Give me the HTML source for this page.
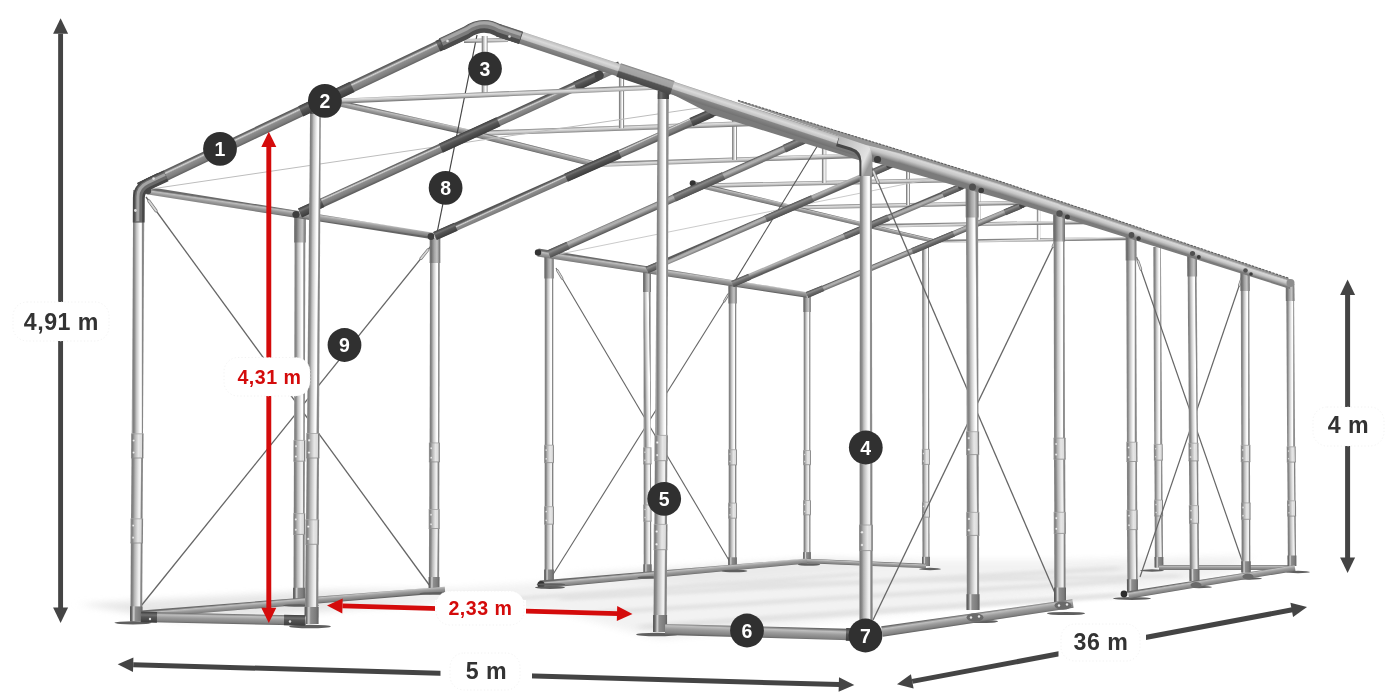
<!DOCTYPE html>
<html lang="pl">
<head>
<meta charset="utf-8">
<title>Konstrukcja namiotu 5 m x 36 m</title>
<style>
html,body{margin:0;padding:0;background:#fff;}
body{width:1400px;height:700px;overflow:hidden;}
svg{display:block;}
.lb{font-family:"Liberation Sans",sans-serif;font-weight:700;}
.ls{letter-spacing:0.5px;}
</style>
</head>
<body>
<svg width="1400" height="700" viewBox="0 0 1400 700">
<defs>

<filter id="blur2" x="-10%" y="-50%" width="120%" height="200%"><feGaussianBlur stdDeviation="5 1.6"/></filter>
<filter id="blur" x="-10%" y="-30%" width="120%" height="160%"><feGaussianBlur stdDeviation="7 3"/></filter>
<linearGradient id="post"><stop offset="0" stop-color="#9c9c9c"/><stop offset="0.07" stop-color="#7e7e7e"/><stop offset="0.2" stop-color="#929292"/><stop offset="0.33" stop-color="#bebebe"/><stop offset="0.5" stop-color="#dedede"/><stop offset="0.66" stop-color="#fafafa"/><stop offset="0.79" stop-color="#ffffff"/><stop offset="0.84" stop-color="#b4b4b4"/><stop offset="0.89" stop-color="#868686"/><stop offset="1" stop-color="#909090"/></linearGradient>
<linearGradient id="ptop"><stop offset="0" stop-color="#7a7a7a"/><stop offset="0.15" stop-color="#6c6c6c"/><stop offset="0.45" stop-color="#a6a6a6"/><stop offset="0.7" stop-color="#c4c4c4"/><stop offset="0.88" stop-color="#8a8a8a"/><stop offset="1" stop-color="#6e6e6e"/></linearGradient>
<linearGradient id="postlow"><stop offset="0" stop-color="#969696"/><stop offset="0.07" stop-color="#7a7a7a"/><stop offset="0.2" stop-color="#8c8c8c"/><stop offset="0.33" stop-color="#b4b4b4"/><stop offset="0.5" stop-color="#d2d2d2"/><stop offset="0.66" stop-color="#ececec"/><stop offset="0.79" stop-color="#f2f2f2"/><stop offset="0.84" stop-color="#acacac"/><stop offset="0.89" stop-color="#828282"/><stop offset="1" stop-color="#8c8c8c"/></linearGradient>
<linearGradient id="post2"><stop offset="0" stop-color="#9a9a9a"/><stop offset="0.12" stop-color="#7c7c7c"/><stop offset="0.3" stop-color="#b0b0b0"/><stop offset="0.6" stop-color="#e6e6e6"/><stop offset="0.85" stop-color="#dcdcdc"/><stop offset="0.92" stop-color="#7e7e7e"/><stop offset="1" stop-color="#8a8a8a"/></linearGradient>
<linearGradient id="dark"><stop offset="0" stop-color="#545454"/><stop offset="0.14" stop-color="#6c6c6c"/><stop offset="0.3" stop-color="#d2d2d2"/><stop offset="0.44" stop-color="#8e8e8e"/><stop offset="0.8" stop-color="#7c7c7c"/><stop offset="1" stop-color="#606060"/></linearGradient>
<linearGradient id="conn"><stop offset="0" stop-color="#3e3e3e"/><stop offset="0.3" stop-color="#707070"/><stop offset="0.5" stop-color="#555"/><stop offset="1" stop-color="#3c3c3c"/></linearGradient>
<linearGradient id="conn3"><stop offset="0" stop-color="#505050"/><stop offset="0.3" stop-color="#8a8a8a"/><stop offset="0.55" stop-color="#6e6e6e"/><stop offset="1" stop-color="#4e4e4e"/></linearGradient>
<linearGradient id="mid"><stop offset="0" stop-color="#6a6a6a"/><stop offset="0.22" stop-color="#bebebe"/><stop offset="0.5" stop-color="#9c9c9c"/><stop offset="0.85" stop-color="#828282"/><stop offset="1" stop-color="#646464"/></linearGradient>
<linearGradient id="mid2"><stop offset="0" stop-color="#5a5a5a"/><stop offset="0.2" stop-color="#a8a8a8"/><stop offset="0.42" stop-color="#b2b2b2"/><stop offset="0.7" stop-color="#868686"/><stop offset="1" stop-color="#5c5c5c"/></linearGradient>
<linearGradient id="light"><stop offset="0" stop-color="#858585"/><stop offset="0.3" stop-color="#dedede"/><stop offset="0.6" stop-color="#c6c6c6"/><stop offset="1" stop-color="#7c7c7c"/></linearGradient>
<linearGradient id="band"><stop offset="0" stop-color="#a2a2a2"/><stop offset="0.25" stop-color="#d8d8d8"/><stop offset="0.55" stop-color="#c6c6c6"/><stop offset="0.8" stop-color="#a0a0a0"/><stop offset="1" stop-color="#7c7c7c"/></linearGradient>
<linearGradient id="conn2"><stop offset="0" stop-color="#7e7e7e"/><stop offset="0.12" stop-color="#a8a8a8"/><stop offset="0.5" stop-color="#a0a0a0"/><stop offset="0.6" stop-color="#555"/><stop offset="1" stop-color="#484848"/></linearGradient>
<linearGradient id="bandlight"><stop offset="0" stop-color="#9a9a9a"/><stop offset="0.07" stop-color="#c0c0c0"/><stop offset="0.3" stop-color="#dadada"/><stop offset="0.55" stop-color="#c2c2c2"/><stop offset="0.63" stop-color="#878787"/><stop offset="1" stop-color="#727272"/></linearGradient>
<linearGradient id="elbow" x1="0" y1="0" x2="1" y2="0.6"><stop offset="0" stop-color="#b4b4b4"/><stop offset="0.5" stop-color="#cfcfcf"/><stop offset="0.85" stop-color="#e2e2e2"/><stop offset="1" stop-color="#9a9a9a"/></linearGradient>

<linearGradient id="g1" href="#post" gradientUnits="userSpaceOnUse" x1="803.6" y1="373.7" x2="810.4" y2="373.7"/>
<linearGradient id="g2" href="#postlow" gradientUnits="userSpaceOnUse" x1="803.6" y1="482.6" x2="810.4" y2="482.6"/>
<linearGradient id="g3" href="#postlow" gradientUnits="userSpaceOnUse" x1="803.5" y1="537.9" x2="810.5" y2="537.9"/>
<linearGradient id="g4" href="#ptop" gradientUnits="userSpaceOnUse" x1="803.3" y1="304.5" x2="810.7" y2="304.5"/>
<linearGradient id="g5" href="#post2" gradientUnits="userSpaceOnUse" x1="803.1" y1="457.6" x2="810.9" y2="457.6"/>
<linearGradient id="g6" href="#post2" gradientUnits="userSpaceOnUse" x1="803.1" y1="507.7" x2="810.9" y2="507.7"/>
<linearGradient id="g7" href="#dark" gradientUnits="userSpaceOnUse" x1="803.2" y1="556.5" x2="810.8" y2="556.5"/>
<linearGradient id="g8" href="#post" gradientUnits="userSpaceOnUse" x1="728.7" y1="367.9" x2="736.3" y2="367.9"/>
<linearGradient id="g9" href="#postlow" gradientUnits="userSpaceOnUse" x1="728.6" y1="484" x2="736.4" y2="484"/>
<linearGradient id="g10" href="#postlow" gradientUnits="userSpaceOnUse" x1="728.5" y1="542.9" x2="736.5" y2="542.9"/>
<linearGradient id="g11" href="#ptop" gradientUnits="userSpaceOnUse" x1="728.3" y1="294.8" x2="736.7" y2="294.8"/>
<linearGradient id="g12" href="#post2" gradientUnits="userSpaceOnUse" x1="728.1" y1="457.3" x2="736.9" y2="457.3"/>
<linearGradient id="g13" href="#post2" gradientUnits="userSpaceOnUse" x1="728.1" y1="510.6" x2="736.9" y2="510.6"/>
<linearGradient id="g14" href="#dark" gradientUnits="userSpaceOnUse" x1="728.2" y1="562.4" x2="736.8" y2="562.4"/>
<linearGradient id="g15" href="#post" gradientUnits="userSpaceOnUse" x1="643.5" y1="359.9" x2="650.8" y2="359.8"/>
<linearGradient id="g16" href="#postlow" gradientUnits="userSpaceOnUse" x1="643.6" y1="484.4" x2="651.1" y2="484.4"/>
<linearGradient id="g17" href="#postlow" gradientUnits="userSpaceOnUse" x1="643.7" y1="547.6" x2="651.3" y2="547.6"/>
<linearGradient id="g18" href="#ptop" gradientUnits="userSpaceOnUse" x1="643" y1="282" x2="651" y2="282"/>
<linearGradient id="g19" href="#post2" gradientUnits="userSpaceOnUse" x1="643.2" y1="455.8" x2="651.5" y2="455.8"/>
<linearGradient id="g20" href="#post2" gradientUnits="userSpaceOnUse" x1="643.2" y1="513" x2="651.5" y2="513"/>
<linearGradient id="g21" href="#dark" gradientUnits="userSpaceOnUse" x1="643.4" y1="569.2" x2="651.6" y2="569.2"/>
<linearGradient id="g22" href="#post" gradientUnits="userSpaceOnUse" x1="544.7" y1="350.6" x2="553.3" y2="350.6"/>
<linearGradient id="g23" href="#postlow" gradientUnits="userSpaceOnUse" x1="544.6" y1="484.7" x2="553.4" y2="484.7"/>
<linearGradient id="g24" href="#postlow" gradientUnits="userSpaceOnUse" x1="544.5" y1="552.6" x2="553.5" y2="552.6"/>
<linearGradient id="g25" href="#ptop" gradientUnits="userSpaceOnUse" x1="544.3" y1="267.2" x2="553.7" y2="267.2"/>
<linearGradient id="g26" href="#post2" gradientUnits="userSpaceOnUse" x1="544.1" y1="453.9" x2="553.9" y2="453.9"/>
<linearGradient id="g27" href="#post2" gradientUnits="userSpaceOnUse" x1="544.1" y1="515.4" x2="553.9" y2="515.4"/>
<linearGradient id="g28" href="#dark" gradientUnits="userSpaceOnUse" x1="544.2" y1="575.3" x2="553.8" y2="575.3"/>
<linearGradient id="g29" href="#post" gradientUnits="userSpaceOnUse" x1="429.8" y1="340.5" x2="439.7" y2="340.5"/>
<linearGradient id="g30" href="#postlow" gradientUnits="userSpaceOnUse" x1="429.2" y1="485.7" x2="439.3" y2="485.7"/>
<linearGradient id="g31" href="#postlow" gradientUnits="userSpaceOnUse" x1="428.9" y1="559.2" x2="439.2" y2="559.3"/>
<linearGradient id="g32" href="#ptop" gradientUnits="userSpaceOnUse" x1="429.6" y1="250.5" x2="440.3" y2="250.5"/>
<linearGradient id="g33" href="#post2" gradientUnits="userSpaceOnUse" x1="428.9" y1="452.4" x2="439.9" y2="452.4"/>
<linearGradient id="g34" href="#post2" gradientUnits="userSpaceOnUse" x1="428.7" y1="519" x2="439.7" y2="519"/>
<linearGradient id="g35" href="#dark" gradientUnits="userSpaceOnUse" x1="428.6" y1="583.4" x2="439.5" y2="583.5"/>
<linearGradient id="g36" href="#post" gradientUnits="userSpaceOnUse" x1="294.3" y1="327.7" x2="305.1" y2="327.7"/>
<linearGradient id="g37" href="#postlow" gradientUnits="userSpaceOnUse" x1="293.8" y1="487.4" x2="304.8" y2="487.4"/>
<linearGradient id="g38" href="#postlow" gradientUnits="userSpaceOnUse" x1="293.5" y1="568.2" x2="304.7" y2="568.2"/>
<linearGradient id="g39" href="#ptop" gradientUnits="userSpaceOnUse" x1="294.2" y1="228.7" x2="305.8" y2="228.8"/>
<linearGradient id="g40" href="#post2" gradientUnits="userSpaceOnUse" x1="293.4" y1="450.8" x2="305.3" y2="450.8"/>
<linearGradient id="g41" href="#post2" gradientUnits="userSpaceOnUse" x1="293.3" y1="524" x2="305.2" y2="524"/>
<linearGradient id="g42" href="#dark" gradientUnits="userSpaceOnUse" x1="293.1" y1="594.9" x2="304.9" y2="594.9"/>
<linearGradient id="g43" href="#mid" gradientUnits="userSpaceOnUse" x1="291.2" y1="598.7" x2="291.8" y2="605.6"/>
<linearGradient id="g44" href="#mid" gradientUnits="userSpaceOnUse" x1="673.2" y1="569.5" x2="673.8" y2="576"/>
<linearGradient id="g45" href="#mid" gradientUnits="userSpaceOnUse" x1="290.5" y1="209.8" x2="289.5" y2="216.7"/>
<linearGradient id="g46" href="#mid" gradientUnits="userSpaceOnUse" x1="673" y1="270.4" x2="672" y2="277.1"/>
<linearGradient id="g47" href="#post" gradientUnits="userSpaceOnUse" x1="922.2" y1="346.7" x2="929.1" y2="346.7"/>
<linearGradient id="g48" href="#postlow" gradientUnits="userSpaceOnUse" x1="922.3" y1="483.3" x2="929.4" y2="483.3"/>
<linearGradient id="g49" href="#postlow" gradientUnits="userSpaceOnUse" x1="922.4" y1="541.6" x2="929.6" y2="541.6"/>
<linearGradient id="g50" href="#post2" gradientUnits="userSpaceOnUse" x1="921.9" y1="456.9" x2="929.8" y2="456.9"/>
<linearGradient id="g51" href="#post2" gradientUnits="userSpaceOnUse" x1="922" y1="509.7" x2="929.9" y2="509.7"/>
<linearGradient id="g52" href="#dark" gradientUnits="userSpaceOnUse" x1="922.1" y1="561.4" x2="929.9" y2="561.4"/>
<linearGradient id="g53" href="#post" gradientUnits="userSpaceOnUse" x1="1153.7" y1="345.7" x2="1161.6" y2="345.7"/>
<linearGradient id="g54" href="#postlow" gradientUnits="userSpaceOnUse" x1="1154.4" y1="480.2" x2="1162.5" y2="480.2"/>
<linearGradient id="g55" href="#postlow" gradientUnits="userSpaceOnUse" x1="1154.7" y1="541.8" x2="1162.9" y2="541.7"/>
<linearGradient id="g56" href="#post2" gradientUnits="userSpaceOnUse" x1="1153.8" y1="452.3" x2="1162.7" y2="452.3"/>
<linearGradient id="g57" href="#post2" gradientUnits="userSpaceOnUse" x1="1154.2" y1="508.1" x2="1163.1" y2="508"/>
<linearGradient id="g58" href="#dark" gradientUnits="userSpaceOnUse" x1="1154.6" y1="562.3" x2="1163.4" y2="562.3"/>
<linearGradient id="g59" href="#mid" gradientUnits="userSpaceOnUse" x1="866.6" y1="561.3" x2="866.4" y2="565.7"/>
<linearGradient id="g60" href="#mid" gradientUnits="userSpaceOnUse" x1="1225.5" y1="565" x2="1225.5" y2="570"/>
<linearGradient id="g61" href="#light" gradientUnits="userSpaceOnUse" x1="1045.6" y1="238.1" x2="1045.7" y2="241.4"/>
<linearGradient id="g62" href="#post" gradientUnits="userSpaceOnUse" x1="1036.8" y1="223.4" x2="1040.2" y2="223.4"/>
<linearGradient id="g63" href="#light" gradientUnits="userSpaceOnUse" x1="985.9" y1="222.2" x2="986" y2="225.9"/>
<linearGradient id="g64" href="#post" gradientUnits="userSpaceOnUse" x1="976.6" y1="206.1" x2="980.4" y2="206.1"/>
<linearGradient id="g65" href="#light" gradientUnits="userSpaceOnUse" x1="916.2" y1="202.9" x2="916.3" y2="207"/>
<linearGradient id="g66" href="#post" gradientUnits="userSpaceOnUse" x1="906" y1="185.6" x2="910" y2="185.6"/>
<linearGradient id="g67" href="#light" gradientUnits="userSpaceOnUse" x1="834.6" y1="180.5" x2="834.7" y2="184.9"/>
<linearGradient id="g68" href="#post" gradientUnits="userSpaceOnUse" x1="821.9" y1="161.3" x2="826.3" y2="161.3"/>
<linearGradient id="g69" href="#light" gradientUnits="userSpaceOnUse" x1="741" y1="157.2" x2="741.2" y2="162.1"/>
<linearGradient id="g70" href="#post" gradientUnits="userSpaceOnUse" x1="732.1" y1="135.7" x2="736.9" y2="135.7"/>
<linearGradient id="g71" href="#light" gradientUnits="userSpaceOnUse" x1="629" y1="125.3" x2="629.2" y2="130.5"/>
<linearGradient id="g72" href="#post" gradientUnits="userSpaceOnUse" x1="618.9" y1="101" x2="624.1" y2="101"/>
<linearGradient id="g73" href="#mid" gradientUnits="userSpaceOnUse" x1="902.6" y1="231.8" x2="901.7" y2="235.6"/>
<linearGradient id="g74" href="#mid" gradientUnits="userSpaceOnUse" x1="830.9" y1="214.6" x2="829.9" y2="218.9"/>
<linearGradient id="g75" href="#mid" gradientUnits="userSpaceOnUse" x1="747.3" y1="194.2" x2="746.2" y2="199"/>
<linearGradient id="g76" href="#mid" gradientUnits="userSpaceOnUse" x1="535.1" y1="146.2" x2="533.7" y2="151.8"/>
<linearGradient id="g77" href="#mid" gradientUnits="userSpaceOnUse" x1="399.4" y1="113.7" x2="398.1" y2="119.8"/>
<linearGradient id="g78" href="#mid" gradientUnits="userSpaceOnUse" x1="697.8" y1="182.3" x2="696.6" y2="186.7"/>
<linearGradient id="g79" href="#mid2" gradientUnits="userSpaceOnUse" x1="920.9" y1="244.4" x2="923.1" y2="249.6"/>
<linearGradient id="g80" href="#conn3" gradientUnits="userSpaceOnUse" x1="813.9" y1="288.8" x2="816.2" y2="294.5"/>
<linearGradient id="g81" href="#conn3" gradientUnits="userSpaceOnUse" x1="931.8" y1="239.5" x2="934.2" y2="245.3"/>
<linearGradient id="g82" href="#conn3" gradientUnits="userSpaceOnUse" x1="1011.7" y1="206.2" x2="1014" y2="211.9"/>
<linearGradient id="g83" href="#mid2" gradientUnits="userSpaceOnUse" x1="853.6" y1="229.2" x2="855.9" y2="234.8"/>
<linearGradient id="g84" href="#conn3" gradientUnits="userSpaceOnUse" x1="739.8" y1="277.3" x2="742.3" y2="283.4"/>
<linearGradient id="g85" href="#conn3" gradientUnits="userSpaceOnUse" x1="865.2" y1="224" x2="867.8" y2="230"/>
<linearGradient id="g86" href="#conn3" gradientUnits="userSpaceOnUse" x1="950" y1="187.9" x2="952.6" y2="194"/>
<linearGradient id="g87" href="#mid2" gradientUnits="userSpaceOnUse" x1="775.4" y1="211" x2="778.1" y2="217"/>
<linearGradient id="g88" href="#conn3" gradientUnits="userSpaceOnUse" x1="654.7" y1="262.8" x2="657.5" y2="269.4"/>
<linearGradient id="g89" href="#conn3" gradientUnits="userSpaceOnUse" x1="787.8" y1="205.3" x2="790.6" y2="211.9"/>
<linearGradient id="g90" href="#conn3" gradientUnits="userSpaceOnUse" x1="877.8" y1="166.5" x2="880.7" y2="173.1"/>
<linearGradient id="g91" href="#mid2" gradientUnits="userSpaceOnUse" x1="684.3" y1="189.4" x2="687.3" y2="196.2"/>
<linearGradient id="g92" href="#conn3" gradientUnits="userSpaceOnUse" x1="556.9" y1="246.1" x2="560.2" y2="253.4"/>
<linearGradient id="g93" href="#conn3" gradientUnits="userSpaceOnUse" x1="697.3" y1="183.3" x2="700.6" y2="190.6"/>
<linearGradient id="g94" href="#conn3" gradientUnits="userSpaceOnUse" x1="792.2" y1="140.8" x2="795.5" y2="148.1"/>
<linearGradient id="g95" href="#dark" gradientUnits="userSpaceOnUse" x1="582.3" y1="166.1" x2="585.7" y2="173.5"/>
<linearGradient id="g96" href="#conn" gradientUnits="userSpaceOnUse" x1="443.6" y1="227.3" x2="447.2" y2="235.4"/>
<linearGradient id="g97" href="#conn" gradientUnits="userSpaceOnUse" x1="591.2" y1="161.8" x2="594.7" y2="169.8"/>
<linearGradient id="g98" href="#conn" gradientUnits="userSpaceOnUse" x1="699.9" y1="113.5" x2="703.5" y2="121.5"/>
<linearGradient id="g99" href="#dark" gradientUnits="userSpaceOnUse" x1="458.1" y1="135.2" x2="461.9" y2="143.6"/>
<linearGradient id="g100" href="#conn" gradientUnits="userSpaceOnUse" x1="309.2" y1="203.4" x2="313.2" y2="212.3"/>
<linearGradient id="g101" href="#conn" gradientUnits="userSpaceOnUse" x1="467.6" y1="130.5" x2="471.6" y2="139.4"/>
<linearGradient id="g102" href="#conn" gradientUnits="userSpaceOnUse" x1="584.4" y1="76.8" x2="588.4" y2="85.7"/>
<linearGradient id="g103" href="#post" gradientUnits="userSpaceOnUse" x1="1286.6" y1="365.4" x2="1294.6" y2="365.4"/>
<linearGradient id="g104" href="#postlow" gradientUnits="userSpaceOnUse" x1="1287.3" y1="481.5" x2="1295.5" y2="481.4"/>
<linearGradient id="g105" href="#postlow" gradientUnits="userSpaceOnUse" x1="1287.7" y1="541.1" x2="1296" y2="541"/>
<linearGradient id="g106" href="#ptop" gradientUnits="userSpaceOnUse" x1="1285.7" y1="292.5" x2="1294.4" y2="292.5"/>
<linearGradient id="g107" href="#post2" gradientUnits="userSpaceOnUse" x1="1286.7" y1="454.5" x2="1295.7" y2="454.4"/>
<linearGradient id="g108" href="#post2" gradientUnits="userSpaceOnUse" x1="1287.1" y1="508.5" x2="1296.1" y2="508.4"/>
<linearGradient id="g109" href="#dark" gradientUnits="userSpaceOnUse" x1="1287.5" y1="560.7" x2="1296.4" y2="560.7"/>
<linearGradient id="g110" href="#post" gradientUnits="userSpaceOnUse" x1="1241" y1="358.4" x2="1249.6" y2="358.4"/>
<linearGradient id="g111" href="#postlow" gradientUnits="userSpaceOnUse" x1="1241.3" y1="482.3" x2="1250.1" y2="482.3"/>
<linearGradient id="g112" href="#postlow" gradientUnits="userSpaceOnUse" x1="1241.5" y1="545.9" x2="1250.4" y2="545.9"/>
<linearGradient id="g113" href="#ptop" gradientUnits="userSpaceOnUse" x1="1240.4" y1="281.3" x2="1249.7" y2="281.2"/>
<linearGradient id="g114" href="#post2" gradientUnits="userSpaceOnUse" x1="1240.8" y1="453.5" x2="1250.4" y2="453.5"/>
<linearGradient id="g115" href="#post2" gradientUnits="userSpaceOnUse" x1="1241" y1="511.1" x2="1250.6" y2="511.1"/>
<linearGradient id="g116" href="#dark" gradientUnits="userSpaceOnUse" x1="1241.2" y1="566.9" x2="1250.7" y2="566.8"/>
<linearGradient id="g117" href="#post" gradientUnits="userSpaceOnUse" x1="1188.2" y1="348.9" x2="1197.2" y2="348.8"/>
<linearGradient id="g118" href="#postlow" gradientUnits="userSpaceOnUse" x1="1189.1" y1="483.3" x2="1198.4" y2="483.2"/>
<linearGradient id="g119" href="#postlow" gradientUnits="userSpaceOnUse" x1="1189.6" y1="552.2" x2="1199" y2="552.1"/>
<linearGradient id="g120" href="#ptop" gradientUnits="userSpaceOnUse" x1="1187.2" y1="265.5" x2="1197" y2="265.5"/>
<linearGradient id="g121" href="#post2" gradientUnits="userSpaceOnUse" x1="1188.5" y1="452.1" x2="1198.6" y2="452"/>
<linearGradient id="g122" href="#post2" gradientUnits="userSpaceOnUse" x1="1188.9" y1="514.5" x2="1199" y2="514.4"/>
<linearGradient id="g123" href="#dark" gradientUnits="userSpaceOnUse" x1="1189.5" y1="575.1" x2="1199.5" y2="575"/>
<linearGradient id="g124" href="#post" gradientUnits="userSpaceOnUse" x1="1126.4" y1="339.1" x2="1136.4" y2="339.1"/>
<linearGradient id="g125" href="#postlow" gradientUnits="userSpaceOnUse" x1="1127" y1="485.9" x2="1137.1" y2="485.9"/>
<linearGradient id="g126" href="#postlow" gradientUnits="userSpaceOnUse" x1="1127.2" y1="561.1" x2="1137.6" y2="561"/>
<linearGradient id="g127" href="#ptop" gradientUnits="userSpaceOnUse" x1="1125.7" y1="248.3" x2="1136.5" y2="248.2"/>
<linearGradient id="g128" href="#post2" gradientUnits="userSpaceOnUse" x1="1126.4" y1="451.9" x2="1137.5" y2="451.8"/>
<linearGradient id="g129" href="#post2" gradientUnits="userSpaceOnUse" x1="1126.6" y1="519.9" x2="1137.7" y2="519.9"/>
<linearGradient id="g130" href="#dark" gradientUnits="userSpaceOnUse" x1="1127" y1="585.9" x2="1138" y2="585.9"/>
<linearGradient id="g131" href="#post" gradientUnits="userSpaceOnUse" x1="1053.8" y1="326.3" x2="1064.8" y2="326.3"/>
<linearGradient id="g132" href="#postlow" gradientUnits="userSpaceOnUse" x1="1054.1" y1="485.8" x2="1065.3" y2="485.7"/>
<linearGradient id="g133" href="#postlow" gradientUnits="userSpaceOnUse" x1="1054.2" y1="567.7" x2="1065.6" y2="567.7"/>
<linearGradient id="g134" href="#ptop" gradientUnits="userSpaceOnUse" x1="1053.1" y1="228" x2="1064.9" y2="228"/>
<linearGradient id="g135" href="#post2" gradientUnits="userSpaceOnUse" x1="1053.6" y1="448.7" x2="1065.7" y2="448.6"/>
<linearGradient id="g136" href="#post2" gradientUnits="userSpaceOnUse" x1="1053.7" y1="522.9" x2="1065.8" y2="522.9"/>
<linearGradient id="g137" href="#dark" gradientUnits="userSpaceOnUse" x1="1054" y1="594.8" x2="1066" y2="594.7"/>
<linearGradient id="g138" href="#post" gradientUnits="userSpaceOnUse" x1="966.3" y1="309.9" x2="978.2" y2="309.8"/>
<linearGradient id="g139" href="#postlow" gradientUnits="userSpaceOnUse" x1="966.6" y1="483.6" x2="978.8" y2="483.5"/>
<linearGradient id="g140" href="#postlow" gradientUnits="userSpaceOnUse" x1="966.7" y1="572.7" x2="979.1" y2="572.7"/>
<linearGradient id="g141" href="#ptop" gradientUnits="userSpaceOnUse" x1="965.6" y1="202.8" x2="978.4" y2="202.7"/>
<linearGradient id="g142" href="#post2" gradientUnits="userSpaceOnUse" x1="966.1" y1="443.2" x2="979.2" y2="443.1"/>
<linearGradient id="g143" href="#post2" gradientUnits="userSpaceOnUse" x1="966.2" y1="523.9" x2="979.3" y2="523.9"/>
<linearGradient id="g144" href="#dark" gradientUnits="userSpaceOnUse" x1="966.5" y1="602.1" x2="979.5" y2="602.1"/>
<linearGradient id="g145" href="#mid" gradientUnits="userSpaceOnUse" x1="976.8" y1="612.8" x2="978.2" y2="622.2"/>
<linearGradient id="g146" href="#mid" gradientUnits="userSpaceOnUse" x1="1211.2" y1="578.2" x2="1212.3" y2="584.8"/>
<linearGradient id="g147" href="#band" gradientUnits="userSpaceOnUse" x1="884.6" y1="147.2" x2="881.4" y2="158.1"/>
<linearGradient id="g148" href="#band" gradientUnits="userSpaceOnUse" x1="937.6" y1="163.6" x2="934.4" y2="173.9"/>
<linearGradient id="g149" href="#band" gradientUnits="userSpaceOnUse" x1="987.5" y1="179.2" x2="984.5" y2="189"/>
<linearGradient id="g150" href="#band" gradientUnits="userSpaceOnUse" x1="1031" y1="193.3" x2="1028" y2="202.6"/>
<linearGradient id="g151" href="#band" gradientUnits="userSpaceOnUse" x1="1080.9" y1="209.9" x2="1078.1" y2="218.7"/>
<linearGradient id="g152" href="#band" gradientUnits="userSpaceOnUse" x1="1116.9" y1="222" x2="1114.1" y2="230.4"/>
<linearGradient id="g153" href="#band" gradientUnits="userSpaceOnUse" x1="1162.8" y1="237.5" x2="1160.2" y2="245.4"/>
<linearGradient id="g154" href="#band" gradientUnits="userSpaceOnUse" x1="1202.3" y1="250.8" x2="1199.7" y2="258.3"/>
<linearGradient id="g155" href="#band" gradientUnits="userSpaceOnUse" x1="1228.7" y1="259.7" x2="1226.3" y2="267"/>
<linearGradient id="g156" href="#band" gradientUnits="userSpaceOnUse" x1="1268.6" y1="273.2" x2="1266.4" y2="280.1"/>
<linearGradient id="g157" href="#light" gradientUnits="userSpaceOnUse" x1="486" y1="38.6" x2="486" y2="42.4"/>
<linearGradient id="g158" href="#post" gradientUnits="userSpaceOnUse" x1="481.6" y1="65.5" x2="487.6" y2="65.5"/>
<linearGradient id="g159" href="#light" gradientUnits="userSpaceOnUse" x1="496.9" y1="91.7" x2="497.1" y2="96.8"/>
<linearGradient id="g160" href="#post" gradientUnits="userSpaceOnUse" x1="308.5" y1="270.7" x2="319.9" y2="270.8"/>
<linearGradient id="g161" href="#postlow" gradientUnits="userSpaceOnUse" x1="306.3" y1="488.8" x2="318.8" y2="488.9"/>
<linearGradient id="g162" href="#postlow" gradientUnits="userSpaceOnUse" x1="305.2" y1="584.1" x2="318.4" y2="584.2"/>
<linearGradient id="g163" href="#post2" gradientUnits="userSpaceOnUse" x1="306.2" y1="445.7" x2="319.5" y2="445.8"/>
<linearGradient id="g164" href="#post2" gradientUnits="userSpaceOnUse" x1="305.4" y1="532" x2="319" y2="532.1"/>
<linearGradient id="g165" href="#dark" gradientUnits="userSpaceOnUse" x1="304.6" y1="615.4" x2="318.6" y2="615.5"/>
<linearGradient id="g166" href="#post" gradientUnits="userSpaceOnUse" x1="656.5" y1="264.7" x2="668" y2="264.7"/>
<linearGradient id="g167" href="#postlow" gradientUnits="userSpaceOnUse" x1="654.5" y1="492.5" x2="667.2" y2="492.6"/>
<linearGradient id="g168" href="#postlow" gradientUnits="userSpaceOnUse" x1="653.6" y1="590.8" x2="666.9" y2="590.9"/>
<linearGradient id="g169" href="#post2" gradientUnits="userSpaceOnUse" x1="654.4" y1="448" x2="667.8" y2="448.1"/>
<linearGradient id="g170" href="#post2" gradientUnits="userSpaceOnUse" x1="653.7" y1="537" x2="667.4" y2="537.1"/>
<linearGradient id="g171" href="#dark" gradientUnits="userSpaceOnUse" x1="653.1" y1="623.4" x2="667.1" y2="623.5"/>
<linearGradient id="g172" href="#conn" gradientUnits="userSpaceOnUse" x1="657.7" y1="95" x2="668.9" y2="95"/>
<linearGradient id="g173" href="#conn" gradientUnits="userSpaceOnUse" x1="310.3" y1="110" x2="320.9" y2="110"/>
<linearGradient id="g174" href="#post" gradientUnits="userSpaceOnUse" x1="132.5" y1="311.9" x2="143.7" y2="311.9"/>
<linearGradient id="g175" href="#postlow" gradientUnits="userSpaceOnUse" x1="131.2" y1="488.3" x2="142.8" y2="488.4"/>
<linearGradient id="g176" href="#postlow" gradientUnits="userSpaceOnUse" x1="130.5" y1="582.2" x2="142.4" y2="582.3"/>
<linearGradient id="g177" href="#post2" gradientUnits="userSpaceOnUse" x1="131" y1="445.8" x2="143.5" y2="445.9"/>
<linearGradient id="g178" href="#post2" gradientUnits="userSpaceOnUse" x1="130.5" y1="530.8" x2="143" y2="530.9"/>
<linearGradient id="g179" href="#dark" gradientUnits="userSpaceOnUse" x1="130" y1="613.9" x2="142.5" y2="614"/>
<linearGradient id="g180" href="#mid" gradientUnits="userSpaceOnUse" x1="223.6" y1="613.8" x2="223.4" y2="623.7"/>
<linearGradient id="g181" href="#conn" gradientUnits="userSpaceOnUse" x1="149.1" y1="611.9" x2="148.9" y2="622.5"/>
<linearGradient id="g182" href="#conn" gradientUnits="userSpaceOnUse" x1="294.6" y1="615" x2="294.4" y2="625.5"/>
<linearGradient id="g183" href="#mid" gradientUnits="userSpaceOnUse" x1="757.7" y1="626.4" x2="757.3" y2="637.6"/>
<linearGradient id="g184" href="#conn" gradientUnits="userSpaceOnUse" x1="852.2" y1="628.3" x2="851.8" y2="640.9"/>
<linearGradient id="g185" href="#post" gradientUnits="userSpaceOnUse" x1="859.7" y1="296.4" x2="872" y2="296.4"/>
<linearGradient id="g186" href="#postlow" gradientUnits="userSpaceOnUse" x1="859.5" y1="492.7" x2="872.4" y2="492.7"/>
<linearGradient id="g187" href="#postlow" gradientUnits="userSpaceOnUse" x1="859.3" y1="592.3" x2="872.6" y2="592.3"/>
<linearGradient id="g188" href="#post2" gradientUnits="userSpaceOnUse" x1="859" y1="447.6" x2="872.8" y2="447.6"/>
<linearGradient id="g189" href="#post2" gradientUnits="userSpaceOnUse" x1="859" y1="537.8" x2="872.9" y2="537.8"/>
<linearGradient id="g190" href="#dark" gradientUnits="userSpaceOnUse" x1="301" y1="105.3" x2="305.6" y2="115"/>
<linearGradient id="g191" href="#conn" gradientUnits="userSpaceOnUse" x1="147.3" y1="178" x2="152.2" y2="188.3"/>
<linearGradient id="g192" href="#conn" gradientUnits="userSpaceOnUse" x1="324" y1="94" x2="328.9" y2="104.3"/>
<linearGradient id="g193" href="#conn" gradientUnits="userSpaceOnUse" x1="449.1" y1="34.4" x2="454.1" y2="44.9"/>
<linearGradient id="g194" href="#bandlight" gradientUnits="userSpaceOnUse" x1="682" y1="84.2" x2="677.9" y2="96.6"/>
<linearGradient id="g195" href="#conn2" gradientUnits="userSpaceOnUse" x1="511.4" y1="27.8" x2="507.3" y2="40"/>
<linearGradient id="g196" href="#conn2" gradientUnits="userSpaceOnUse" x1="647.7" y1="72.2" x2="643.2" y2="85.8"/>
</defs>
<rect width="1400" height="700" fill="#fff"/>
<g id="structure">
<g filter="url(#blur)" opacity="0.9">
<polygon points="80,604 330,590 470,588 430,604 180,622" fill="#e4e4e4"/>
<polygon points="330,596 900,560 1150,560 1110,590 660,640 560,612" fill="#f1f1f1"/>
<polygon points="560,575 820,558 930,560 700,585" fill="#e8e8e8"/>
<polygon points="1060,560 1250,556 1230,574 1120,592" fill="#f0f0f0"/>
</g>
<g filter="url(#blur2)" opacity="0.9">
<polygon points="560,596 1120,566 1120,571 560,601" fill="#e2e2e2"/>
<polygon points="600,610 1130,578 1130,583 600,615" fill="#e2e2e2"/>
<polygon points="640,624 1120,592 1120,598 640,630" fill="#e2e2e2"/>
<polygon points="700,583 1180,574 1180,578 700,587" fill="#e2e2e2"/>
<polygon points="470,600 860,572 860,576 470,604" fill="#e2e2e2"/>
</g>
<line x1="146" y1="197" x2="430" y2="586" stroke="#666" stroke-width="1.3"/>
<line x1="141" y1="606" x2="431" y2="246" stroke="#666" stroke-width="1.3"/>
<line x1="556" y1="268" x2="730" y2="562" stroke="#666" stroke-width="1.1"/>
<line x1="552" y1="576" x2="730" y2="292" stroke="#666" stroke-width="1.1"/>
<line x1="148.9" y1="201" x2="156" y2="210.7" stroke="#7a7a7a" stroke-width="3.2" stroke-linecap="round"/>
<line x1="148.9" y1="201" x2="156" y2="210.7" stroke="#d8d8d8" stroke-width="1.8" stroke-linecap="round"/>
<line x1="427.9" y1="249.9" x2="421" y2="258.5" stroke="#7a7a7a" stroke-width="3" stroke-linecap="round"/>
<line x1="427.9" y1="249.9" x2="421" y2="258.5" stroke="#d8d8d8" stroke-width="1.6" stroke-linecap="round"/>
<line x1="557.5" y1="270.6" x2="562.1" y2="278.3" stroke="#7a7a7a" stroke-width="2.6" stroke-linecap="round"/>
<line x1="557.5" y1="270.6" x2="562.1" y2="278.3" stroke="#d8d8d8" stroke-width="1.2" stroke-linecap="round"/>
<line x1="728.4" y1="294.5" x2="724.2" y2="301.3" stroke="#7a7a7a" stroke-width="2.4" stroke-linecap="round"/>
<line x1="728.4" y1="294.5" x2="724.2" y2="301.3" stroke="#d8d8d8" stroke-width="1" stroke-linecap="round"/>
<polygon points="803.6,297 803.6,450.5 810.4,450.5 810.4,297" fill="url(#g1)"/>
<polygon points="803.6,464.7 803.6,500.5 810.4,500.5 810.4,464.7" fill="url(#g2)"/>
<polygon points="803.5,514.8 803.5,561 810.5,561 810.5,514.8" fill="url(#g3)"/>
<polygon points="803.3,297 803.3,312 810.7,312 810.7,297" fill="url(#g4)"/>
<polygon points="803.1,450.5 803.1,464.7 810.9,464.7 810.9,450.5" fill="url(#g5)"/>
<line x1="803.1" y1="464.7" x2="810.9" y2="464.7" stroke="#8a8a8a" stroke-width="0.8"/>
<line x1="803.1" y1="450.5" x2="810.9" y2="450.5" stroke="#9a9a9a" stroke-width="0.7"/>
<circle cx="804.8" cy="454.5" r="0.8" fill="#f4f4f4" stroke="#999" stroke-width="0.4"/>
<circle cx="804.8" cy="461.6" r="0.8" fill="#f4f4f4" stroke="#999" stroke-width="0.4"/>
<polygon points="803.1,500.5 803.1,514.8 810.9,514.8 810.9,500.5" fill="url(#g6)"/>
<line x1="803.1" y1="514.8" x2="810.9" y2="514.8" stroke="#8a8a8a" stroke-width="0.8"/>
<line x1="803.1" y1="500.5" x2="810.9" y2="500.5" stroke="#9a9a9a" stroke-width="0.7"/>
<circle cx="804.8" cy="504.5" r="0.8" fill="#f4f4f4" stroke="#999" stroke-width="0.4"/>
<circle cx="804.8" cy="511.6" r="0.8" fill="#f4f4f4" stroke="#999" stroke-width="0.4"/>
<polygon points="803.2,552.1 803.2,561 810.8,561 810.8,552.1" fill="url(#g7)"/>
<polygon points="728.7,286 728.7,449.7 736.3,449.7 736.3,286" fill="url(#g8)"/>
<polygon points="728.6,464.9 728.6,503.1 736.4,503.1 736.4,464.9" fill="url(#g9)"/>
<polygon points="728.5,518.2 728.5,567.5 736.5,567.5 736.5,518.2" fill="url(#g10)"/>
<polygon points="728.3,286 728.3,303.5 736.7,303.5 736.7,286" fill="url(#g11)"/>
<polygon points="728.1,449.7 728.1,464.9 736.9,464.9 736.9,449.7" fill="url(#g12)"/>
<line x1="728.1" y1="464.9" x2="736.9" y2="464.9" stroke="#8a8a8a" stroke-width="0.8"/>
<line x1="728.1" y1="449.7" x2="736.9" y2="449.7" stroke="#9a9a9a" stroke-width="0.7"/>
<circle cx="730.1" cy="454" r="0.8" fill="#f4f4f4" stroke="#999" stroke-width="0.4"/>
<circle cx="730.1" cy="461.6" r="0.8" fill="#f4f4f4" stroke="#999" stroke-width="0.4"/>
<polygon points="728.1,503.1 728.1,518.2 736.9,518.2 736.9,503.1" fill="url(#g13)"/>
<line x1="728.1" y1="518.2" x2="736.9" y2="518.2" stroke="#8a8a8a" stroke-width="0.8"/>
<line x1="728.1" y1="503.1" x2="736.9" y2="503.1" stroke="#9a9a9a" stroke-width="0.7"/>
<circle cx="730.1" cy="507.3" r="0.8" fill="#f4f4f4" stroke="#999" stroke-width="0.4"/>
<circle cx="730.1" cy="514.9" r="0.8" fill="#f4f4f4" stroke="#999" stroke-width="0.4"/>
<polygon points="728.2,557.3 728.2,567.5 736.8,567.5 736.8,557.3" fill="url(#g14)"/>
<polygon points="643.4,272 643.6,447.7 650.9,447.7 650.6,272" fill="url(#g15)"/>
<polygon points="643.6,464 643.7,504.9 651.1,504.9 651,464" fill="url(#g16)"/>
<polygon points="643.6,521.2 643.7,574 651.3,574 651.2,521.2" fill="url(#g17)"/>
<polygon points="643,272 643,292 651,292 651,272" fill="url(#g18)"/>
<polygon points="643.1,447.7 643.2,464 651.5,464 651.4,447.7" fill="url(#g19)"/>
<line x1="643.2" y1="464" x2="651.5" y2="464" stroke="#8a8a8a" stroke-width="0.8"/>
<line x1="643.1" y1="447.7" x2="651.4" y2="447.7" stroke="#9a9a9a" stroke-width="0.7"/>
<circle cx="645" cy="452.3" r="0.8" fill="#f4f4f4" stroke="#999" stroke-width="0.4"/>
<circle cx="645" cy="460.4" r="0.8" fill="#f4f4f4" stroke="#999" stroke-width="0.4"/>
<polygon points="643.2,504.9 643.3,521.2 651.6,521.2 651.5,504.9" fill="url(#g20)"/>
<line x1="643.3" y1="521.2" x2="651.6" y2="521.2" stroke="#8a8a8a" stroke-width="0.8"/>
<line x1="643.2" y1="504.9" x2="651.5" y2="504.9" stroke="#9a9a9a" stroke-width="0.7"/>
<circle cx="645.1" cy="509.5" r="0.8" fill="#f4f4f4" stroke="#999" stroke-width="0.4"/>
<circle cx="645.1" cy="517.6" r="0.8" fill="#f4f4f4" stroke="#999" stroke-width="0.4"/>
<polygon points="643.4,564.3 643.4,574 651.6,574 651.6,564.3" fill="url(#g21)"/>
<polygon points="544.7,256 544.7,445.2 553.3,445.2 553.3,256" fill="url(#g22)"/>
<polygon points="544.6,462.6 544.6,506.7 553.4,506.7 553.4,462.6" fill="url(#g23)"/>
<polygon points="544.5,524.2 544.5,581 553.5,581 553.5,524.2" fill="url(#g24)"/>
<polygon points="544.3,256 544.3,278.5 553.7,278.5 553.7,256" fill="url(#g25)"/>
<polygon points="544.1,445.2 544.1,462.6 553.9,462.6 553.9,445.2" fill="url(#g26)"/>
<line x1="544.1" y1="462.6" x2="553.9" y2="462.6" stroke="#8a8a8a" stroke-width="0.8"/>
<line x1="544.1" y1="445.2" x2="553.9" y2="445.2" stroke="#9a9a9a" stroke-width="0.7"/>
<circle cx="546.3" cy="450.1" r="0.9" fill="#f4f4f4" stroke="#999" stroke-width="0.4"/>
<circle cx="546.3" cy="458.8" r="0.9" fill="#f4f4f4" stroke="#999" stroke-width="0.4"/>
<polygon points="544.1,506.7 544.1,524.2 553.9,524.2 553.9,506.7" fill="url(#g27)"/>
<line x1="544.1" y1="524.2" x2="553.9" y2="524.2" stroke="#8a8a8a" stroke-width="0.8"/>
<line x1="544.1" y1="506.7" x2="553.9" y2="506.7" stroke="#9a9a9a" stroke-width="0.7"/>
<circle cx="546.3" cy="511.6" r="0.9" fill="#f4f4f4" stroke="#999" stroke-width="0.4"/>
<circle cx="546.3" cy="520.3" r="0.9" fill="#f4f4f4" stroke="#999" stroke-width="0.4"/>
<polygon points="544.2,569.5 544.2,581 553.8,581 553.8,569.5" fill="url(#g28)"/>
<polygon points="430.1,238 429.5,442.9 439.4,443 439.9,238" fill="url(#g29)"/>
<polygon points="429.3,461.9 429.2,509.5 439.3,509.6 439.4,461.9" fill="url(#g30)"/>
<polygon points="429,528.5 428.9,590 439.1,590 439.3,528.5" fill="url(#g31)"/>
<polygon points="429.7,238 429.6,263 440.3,263 440.3,238" fill="url(#g32)"/>
<polygon points="428.9,442.9 428.9,461.9 439.9,461.9 439.9,443" fill="url(#g33)"/>
<line x1="428.9" y1="461.9" x2="439.9" y2="461.9" stroke="#8a8a8a" stroke-width="0.8"/>
<line x1="428.9" y1="442.9" x2="439.9" y2="442.9" stroke="#9a9a9a" stroke-width="0.7"/>
<circle cx="431.3" cy="448.2" r="1" fill="#f4f4f4" stroke="#999" stroke-width="0.4"/>
<circle cx="431.3" cy="457.7" r="1" fill="#f4f4f4" stroke="#999" stroke-width="0.4"/>
<polygon points="428.7,509.5 428.7,528.5 439.7,528.5 439.7,509.6" fill="url(#g34)"/>
<line x1="428.7" y1="528.5" x2="439.7" y2="528.5" stroke="#8a8a8a" stroke-width="0.8"/>
<line x1="428.7" y1="509.5" x2="439.7" y2="509.5" stroke="#9a9a9a" stroke-width="0.7"/>
<circle cx="431.1" cy="514.8" r="1" fill="#f4f4f4" stroke="#999" stroke-width="0.4"/>
<circle cx="431.1" cy="524.3" r="1" fill="#f4f4f4" stroke="#999" stroke-width="0.4"/>
<polygon points="428.6,576.9 428.6,590 439.4,590 439.5,576.9" fill="url(#g35)"/>
<polygon points="294.6,215 294,440.4 304.8,440.4 305.4,215" fill="url(#g36)"/>
<polygon points="293.9,461.2 293.7,513.6 304.7,513.6 304.9,461.2" fill="url(#g37)"/>
<polygon points="293.6,534.4 293.4,602 304.6,602 304.8,534.4" fill="url(#g38)"/>
<polygon points="294.2,215 294.1,242.5 305.7,242.5 305.8,215" fill="url(#g39)"/>
<polygon points="293.5,440.4 293.4,461.2 305.3,461.2 305.4,440.4" fill="url(#g40)"/>
<line x1="293.4" y1="461.2" x2="305.3" y2="461.2" stroke="#8a8a8a" stroke-width="0.8"/>
<line x1="293.5" y1="440.4" x2="305.4" y2="440.4" stroke="#9a9a9a" stroke-width="0.7"/>
<circle cx="296.1" cy="446.2" r="1.1" fill="#f4f4f4" stroke="#999" stroke-width="0.4"/>
<circle cx="296" cy="456.6" r="1.1" fill="#f4f4f4" stroke="#999" stroke-width="0.4"/>
<polygon points="293.3,513.6 293.2,534.4 305.1,534.4 305.2,513.6" fill="url(#g41)"/>
<line x1="293.2" y1="534.4" x2="305.1" y2="534.4" stroke="#8a8a8a" stroke-width="0.8"/>
<line x1="293.3" y1="513.6" x2="305.2" y2="513.6" stroke="#9a9a9a" stroke-width="0.7"/>
<circle cx="295.9" cy="519.4" r="1.1" fill="#f4f4f4" stroke="#999" stroke-width="0.4"/>
<circle cx="295.9" cy="529.8" r="1.1" fill="#f4f4f4" stroke="#999" stroke-width="0.4"/>
<polygon points="293.1,587.7 293.1,602 304.9,602 304.9,587.8" fill="url(#g42)"/>
<polygon points="137.7,610.7 444.8,586.7 445.2,592.9 138.3,618.3" fill="url(#g43)"/>
<polygon points="539.6,580.5 806.8,558.5 807.2,563.5 540.4,588.5" fill="url(#g44)"/>
<circle cx="541" cy="584.5" r="3.6" fill="#333"/>
<ellipse cx="550" cy="587.5" rx="15" ry="1.4" fill="#5f5f5f"/>
<ellipse cx="301" cy="605.5" rx="17.9" ry="1.3" fill="#5f5f5f"/>
<ellipse cx="436" cy="593.5" rx="16.5" ry="1.3" fill="#5f5f5f"/>
<ellipse cx="551" cy="584.5" rx="14.4" ry="1.3" fill="#5f5f5f"/>
<ellipse cx="649.5" cy="577.5" rx="12.2" ry="1.3" fill="#5f5f5f"/>
<ellipse cx="734.5" cy="571" rx="12.8" ry="1.3" fill="#5f5f5f"/>
<ellipse cx="809" cy="564.5" rx="11.2" ry="1.3" fill="#5f5f5f"/>
<polygon points="147.6,186.7 433.5,232.8 432.5,239.2 146.4,194.3" fill="url(#g45)"/>
<circle cx="296" cy="214.5" r="3.6" fill="#3e3e3e"/><circle cx="431" cy="236.5" r="3.4" fill="#3e3e3e"/><circle cx="148" cy="191" r="3.2" fill="#4a4a4a"/>
<polygon points="538.6,248.6 807.4,292.2 806.6,297.8 537.4,256.4" fill="url(#g46)"/>
<circle cx="538" cy="252.5" r="3.2" fill="#333"/>
<polygon points="922,244 922.4,449.4 929.3,449.4 929,244" fill="url(#g47)"/>
<polygon points="922.3,464.4 922.4,502.2 929.4,502.2 929.4,464.4" fill="url(#g48)"/>
<polygon points="922.3,517.2 922.4,566 929.6,566 929.5,517.2" fill="url(#g49)"/>
<polygon points="921.9,449.4 921.9,464.4 929.8,464.4 929.8,449.4" fill="url(#g50)"/>
<line x1="921.9" y1="464.4" x2="929.8" y2="464.4" stroke="#8a8a8a" stroke-width="0.8"/>
<line x1="921.9" y1="449.4" x2="929.8" y2="449.4" stroke="#9a9a9a" stroke-width="0.7"/>
<circle cx="923.6" cy="453.6" r="0.8" fill="#f4f4f4" stroke="#999" stroke-width="0.4"/>
<circle cx="923.6" cy="461.1" r="0.8" fill="#f4f4f4" stroke="#999" stroke-width="0.4"/>
<polygon points="922,502.2 922,517.2 929.9,517.2 929.9,502.2" fill="url(#g51)"/>
<line x1="922" y1="517.2" x2="929.9" y2="517.2" stroke="#8a8a8a" stroke-width="0.8"/>
<line x1="922" y1="502.2" x2="929.9" y2="502.2" stroke="#9a9a9a" stroke-width="0.7"/>
<circle cx="923.7" cy="506.4" r="0.8" fill="#f4f4f4" stroke="#999" stroke-width="0.4"/>
<circle cx="923.7" cy="513.9" r="0.8" fill="#f4f4f4" stroke="#999" stroke-width="0.4"/>
<polygon points="922.1,556.8 922.1,566 929.9,566 929.9,556.8" fill="url(#g52)"/>
<polygon points="1153.1,247 1154.3,444.4 1162.2,444.4 1160.9,247" fill="url(#g53)"/>
<polygon points="1154.3,460.3 1154.6,500.2 1162.6,500.1 1162.3,460.2" fill="url(#g54)"/>
<polygon points="1154.6,516 1154.9,567.5 1163.1,567.5 1162.8,516" fill="url(#g55)"/>
<polygon points="1153.8,444.4 1153.9,460.3 1162.8,460.2 1162.7,444.4" fill="url(#g56)"/>
<line x1="1153.9" y1="460.2" x2="1162.8" y2="460.2" stroke="#8a8a8a" stroke-width="0.8"/>
<line x1="1153.8" y1="444.4" x2="1162.7" y2="444.4" stroke="#9a9a9a" stroke-width="0.7"/>
<circle cx="1155.8" cy="448.8" r="0.8" fill="#f4f4f4" stroke="#999" stroke-width="0.4"/>
<circle cx="1155.8" cy="456.8" r="0.8" fill="#f4f4f4" stroke="#999" stroke-width="0.4"/>
<polygon points="1154.1,500.2 1154.2,516 1163.1,516 1163,500.1" fill="url(#g57)"/>
<line x1="1154.2" y1="516" x2="1163.1" y2="516" stroke="#8a8a8a" stroke-width="0.8"/>
<line x1="1154.1" y1="500.1" x2="1163" y2="500.1" stroke="#9a9a9a" stroke-width="0.7"/>
<circle cx="1156.1" cy="504.6" r="0.8" fill="#f4f4f4" stroke="#999" stroke-width="0.4"/>
<circle cx="1156.2" cy="512.5" r="0.8" fill="#f4f4f4" stroke="#999" stroke-width="0.4"/>
<polygon points="1154.5,557.1 1154.6,567.5 1163.4,567.5 1163.3,557" fill="url(#g58)"/>
<polygon points="807.1,558.8 926.1,563.8 925.9,568.2 806.9,563.2" fill="url(#g59)"/>
<polygon points="1159,565 1292,565 1292,570 1159,570" fill="url(#g60)"/>
<ellipse cx="930" cy="569" rx="11" ry="1.2" fill="#5f5f5f"/>
<ellipse cx="1152" cy="570.5" rx="12" ry="1.2" fill="#5f5f5f"/>
<polygon points="935.3,239.8 1155.9,236.4 1155.9,239.7 935.4,243.1" fill="url(#g61)"/>
<polygon points="1036.8,207 1036.8,239.8 1040.2,239.8 1040.2,207" fill="url(#g62)"/>
<polygon points="868.9,224.1 1102.9,220.2 1103,223.9 869,227.8" fill="url(#g63)"/>
<polygon points="976.6,188 976.6,224.1 980.4,224.1 980.4,188" fill="url(#g64)"/>
<polygon points="791.8,205.5 1040.6,200.4 1040.7,204.5 791.8,209.5" fill="url(#g65)"/>
<polygon points="906,166 906,205.1 910,205.1 910,166" fill="url(#g66)"/>
<polygon points="701.6,183.5 967.5,177.5 967.6,182 701.7,187.9" fill="url(#g67)"/>
<polygon points="821.9,139.6 821.9,183 826.3,183 826.3,139.6" fill="url(#g68)"/>
<polygon points="595.8,162.1 886.1,152.4 886.3,157.2 596,166.9" fill="url(#g69)"/>
<polygon points="732.1,111.6 732.1,159.9 736.9,159.9 736.9,111.6" fill="url(#g70)"/>
<polygon points="472.7,130.9 785.3,119.7 785.5,124.9 472.9,136.1" fill="url(#g71)"/>
<polygon points="618.9,73.8 618.9,128.2 624.1,128.2 624.1,73.8" fill="url(#g72)"/>
<polygon points="869.4,223.9 935.8,239.6 934.9,243.3 868.5,228" fill="url(#g73)"/>
<polygon points="792.3,205.3 869.4,223.9 868.4,228 791.3,209.7" fill="url(#g74)"/>
<polygon points="702.3,183.2 792.3,205.2 791.3,209.8 701.1,188.2" fill="url(#g75)"/>
<polygon points="473.5,130.6 596.6,161.8 595.2,167.2 472.1,136.4" fill="url(#g76)"/>
<polygon points="325.4,96.9 473.5,130.6 472.1,136.4 324,103.1" fill="url(#g77)"/>
<polygon points="693.3,181.1 702.3,183.5 701.1,187.9 692.1,185.5" fill="url(#g78)"/>
<circle cx="692.7" cy="183.3" r="3" fill="#333"/>
<line x1="151" y1="189" x2="705" y2="107" stroke="#bdbdbd" stroke-width="1"/>
<line x1="560" y1="254" x2="950" y2="175" stroke="#c4c4c4" stroke-width="0.9"/>
<line x1="477" y1="35" x2="436" y2="238" stroke="#444" stroke-width="1.2"/>
<line x1="821" y1="140" x2="733" y2="284" stroke="#555" stroke-width="1.1"/>
<polygon points="805.9,292.4 1035.9,196.4 1038.1,201.6 808.1,297.6" fill="url(#g79)"/>
<polygon points="805.8,292.1 821.9,285.4 824.3,291.1 808.2,297.9" fill="url(#g80)"/>
<polygon points="911.1,248.2 952.5,230.9 954.9,236.6 913.5,253.9" fill="url(#g81)"/>
<polygon points="1003.6,209.6 1019.7,202.9 1022.1,208.6 1006,215.3" fill="url(#g82)"/>
<circle cx="1022" cy="205.2" r="2.8" fill="#444"/>
<polygon points="731.3,281.2 975.8,177.2 978.2,182.8 733.7,286.8" fill="url(#g83)"/>
<polygon points="731.2,281 748.3,273.7 750.9,279.8 733.8,287" fill="url(#g84)"/>
<polygon points="843.2,233.3 887.2,214.6 889.8,220.7 845.8,239.4" fill="url(#g85)"/>
<polygon points="941.5,191.5 958.6,184.2 961.2,190.3 944.1,197.6" fill="url(#g86)"/>
<circle cx="961.1" cy="186.8" r="3" fill="#444"/>
<polygon points="645.7,267 905.2,155 907.8,161 648.3,273" fill="url(#g87)"/>
<polygon points="645.6,266.7 663.7,258.9 666.6,265.5 648.4,273.3" fill="url(#g88)"/>
<polygon points="764.4,215.4 811.1,195.2 814,201.8 767.3,222" fill="url(#g89)"/>
<polygon points="868.7,170.4 886.9,162.5 889.8,169.1 871.6,177" fill="url(#g90)"/>
<circle cx="889.6" cy="165.3" r="3.3" fill="#444"/>
<polygon points="547.5,250.6 821.1,128.2 824.1,135 550.5,257.4" fill="url(#g91)"/>
<polygon points="547.4,250.3 566.5,241.8 569.8,249.1 550.6,257.7" fill="url(#g92)"/>
<polygon points="672.7,194.3 721.9,172.3 725.2,179.6 675.9,201.6" fill="url(#g93)"/>
<polygon points="782.7,145.1 801.8,136.5 805.1,143.8 785.9,152.4" fill="url(#g94)"/>
<circle cx="804.8" cy="139.6" r="3.7" fill="#444"/>
<polygon points="433.3,232.3 731.3,99.9 734.7,107.3 436.7,239.7" fill="url(#g95)"/>
<polygon points="433.2,232 454.1,222.7 457.6,230.8 436.8,240" fill="url(#g96)"/>
<polygon points="564.3,173.7 618,149.9 621.5,157.9 567.9,181.8" fill="url(#g97)"/>
<polygon points="689.5,118.1 710.4,108.8 713.9,116.9 693.1,126.2" fill="url(#g98)"/>
<circle cx="713.6" cy="112.2" r="4.1" fill="#444"/>
<polygon points="298.1,208.8 618.1,61.6 621.9,70 301.9,217.2" fill="url(#g99)"/>
<polygon points="298,208.5 320.4,198.2 324.4,207.1 302,217.5" fill="url(#g100)"/>
<polygon points="438.8,143.8 496.4,117.3 500.4,126.2 442.8,152.7" fill="url(#g101)"/>
<polygon points="573.2,82 595.6,71.7 599.6,80.6 577.2,90.9" fill="url(#g102)"/>
<circle cx="599.2" cy="75.4" r="4.6" fill="#444"/>
<line x1="871" y1="166" x2="1058" y2="600" stroke="#666" stroke-width="1.3"/>
<line x1="873" y1="620" x2="1060" y2="232" stroke="#666" stroke-width="1.3"/>
<line x1="1136.6" y1="257" x2="1245" y2="569" stroke="#666" stroke-width="1.2"/>
<line x1="1243.5" y1="273" x2="1140" y2="577" stroke="#666" stroke-width="1.2"/>
<line x1="873.4" y1="171.5" x2="878.1" y2="182.5" stroke="#7a7a7a" stroke-width="3.2" stroke-linecap="round"/>
<line x1="873.4" y1="171.5" x2="878.1" y2="182.5" stroke="#d8d8d8" stroke-width="1.8" stroke-linecap="round"/>
<line x1="1057.8" y1="236.5" x2="1053.1" y2="246.4" stroke="#7a7a7a" stroke-width="3" stroke-linecap="round"/>
<line x1="1057.8" y1="236.5" x2="1053.1" y2="246.4" stroke="#d8d8d8" stroke-width="1.6" stroke-linecap="round"/>
<line x1="1137.9" y1="260.8" x2="1140.9" y2="269.3" stroke="#7a7a7a" stroke-width="2.6" stroke-linecap="round"/>
<line x1="1137.9" y1="260.8" x2="1140.9" y2="269.3" stroke="#d8d8d8" stroke-width="1.2" stroke-linecap="round"/>
<line x1="1242.2" y1="276.8" x2="1239.3" y2="285.3" stroke="#7a7a7a" stroke-width="2.6" stroke-linecap="round"/>
<line x1="1242.2" y1="276.8" x2="1239.3" y2="285.3" stroke="#d8d8d8" stroke-width="1.2" stroke-linecap="round"/>
<polygon points="1286,284 1287.2,446.8 1295.1,446.7 1294,284" fill="url(#g103)"/>
<polygon points="1287.2,462.2 1287.5,500.8 1295.6,500.7 1295.3,462.1" fill="url(#g104)"/>
<polygon points="1287.5,516.1 1287.9,566 1296.1,566 1295.8,516.1" fill="url(#g105)"/>
<polygon points="1285.7,284 1285.8,301 1294.5,301 1294.3,284" fill="url(#g106)"/>
<polygon points="1286.7,446.8 1286.8,462.2 1295.8,462.1 1295.7,446.7" fill="url(#g107)"/>
<line x1="1286.8" y1="462.1" x2="1295.8" y2="462.1" stroke="#8a8a8a" stroke-width="0.8"/>
<line x1="1286.7" y1="446.8" x2="1295.7" y2="446.8" stroke="#9a9a9a" stroke-width="0.7"/>
<circle cx="1288.7" cy="451.1" r="0.8" fill="#f4f4f4" stroke="#999" stroke-width="0.4"/>
<circle cx="1288.7" cy="458.7" r="0.8" fill="#f4f4f4" stroke="#999" stroke-width="0.4"/>
<polygon points="1287,500.8 1287.1,516.1 1296.1,516.1 1296,500.7" fill="url(#g108)"/>
<line x1="1287.1" y1="516.1" x2="1296.1" y2="516.1" stroke="#8a8a8a" stroke-width="0.8"/>
<line x1="1287" y1="500.8" x2="1296" y2="500.8" stroke="#9a9a9a" stroke-width="0.7"/>
<circle cx="1289" cy="505.1" r="0.8" fill="#f4f4f4" stroke="#999" stroke-width="0.4"/>
<circle cx="1289.1" cy="512.7" r="0.8" fill="#f4f4f4" stroke="#999" stroke-width="0.4"/>
<polygon points="1287.5,555.5 1287.6,566 1296.4,566 1296.4,555.4" fill="url(#g109)"/>
<polygon points="1240.7,271.5 1241.3,445.4 1249.8,445.3 1249.3,271.5" fill="url(#g110)"/>
<polygon points="1241.3,461.7 1241.4,502.9 1250.1,502.9 1250,461.7" fill="url(#g111)"/>
<polygon points="1241.4,519.3 1241.6,572.5 1250.4,572.5 1250.3,519.3" fill="url(#g112)"/>
<polygon points="1240.4,271.5 1240.4,291 1249.7,291 1249.6,271.5" fill="url(#g113)"/>
<polygon points="1240.8,445.4 1240.8,461.7 1250.4,461.7 1250.4,445.3" fill="url(#g114)"/>
<line x1="1240.8" y1="461.7" x2="1250.4" y2="461.7" stroke="#8a8a8a" stroke-width="0.8"/>
<line x1="1240.8" y1="445.3" x2="1250.4" y2="445.3" stroke="#9a9a9a" stroke-width="0.7"/>
<circle cx="1242.9" cy="449.9" r="0.9" fill="#f4f4f4" stroke="#999" stroke-width="0.4"/>
<circle cx="1242.9" cy="458.1" r="0.9" fill="#f4f4f4" stroke="#999" stroke-width="0.4"/>
<polygon points="1241,502.9 1241,519.3 1250.6,519.3 1250.6,502.9" fill="url(#g115)"/>
<line x1="1241" y1="519.3" x2="1250.6" y2="519.3" stroke="#8a8a8a" stroke-width="0.8"/>
<line x1="1241" y1="502.9" x2="1250.6" y2="502.9" stroke="#9a9a9a" stroke-width="0.7"/>
<circle cx="1243.1" cy="507.5" r="0.9" fill="#f4f4f4" stroke="#999" stroke-width="0.4"/>
<circle cx="1243.1" cy="515.7" r="0.9" fill="#f4f4f4" stroke="#999" stroke-width="0.4"/>
<polygon points="1241.2,561.2 1241.3,572.5 1250.7,572.5 1250.7,561.2" fill="url(#g116)"/>
<polygon points="1187.5,254.5 1188.9,443.2 1198,443.2 1196.5,254.5" fill="url(#g117)"/>
<polygon points="1189,461 1189.3,505.6 1198.5,505.6 1198.2,460.9" fill="url(#g118)"/>
<polygon points="1189.4,523.4 1189.8,581 1199.2,581 1198.8,523.3" fill="url(#g119)"/>
<polygon points="1187.1,254.5 1187.3,276.5 1197.1,276.5 1196.9,254.5" fill="url(#g120)"/>
<polygon points="1188.4,443.2 1188.5,461 1198.6,460.9 1198.5,443.2" fill="url(#g121)"/>
<line x1="1188.5" y1="460.9" x2="1198.6" y2="460.9" stroke="#8a8a8a" stroke-width="0.8"/>
<line x1="1188.4" y1="443.2" x2="1198.5" y2="443.2" stroke="#9a9a9a" stroke-width="0.7"/>
<circle cx="1190.7" cy="448.2" r="0.9" fill="#f4f4f4" stroke="#999" stroke-width="0.4"/>
<circle cx="1190.7" cy="457" r="0.9" fill="#f4f4f4" stroke="#999" stroke-width="0.4"/>
<polygon points="1188.9,505.6 1189,523.4 1199.1,523.3 1199,505.6" fill="url(#g122)"/>
<line x1="1189" y1="523.3" x2="1199.1" y2="523.3" stroke="#8a8a8a" stroke-width="0.8"/>
<line x1="1188.9" y1="505.6" x2="1199" y2="505.6" stroke="#9a9a9a" stroke-width="0.7"/>
<circle cx="1191.1" cy="510.6" r="0.9" fill="#f4f4f4" stroke="#999" stroke-width="0.4"/>
<circle cx="1191.2" cy="519.4" r="0.9" fill="#f4f4f4" stroke="#999" stroke-width="0.4"/>
<polygon points="1189.4,569.1 1189.5,581 1199.5,581 1199.4,569" fill="url(#g123)"/>
<polygon points="1126,236 1126.9,442.2 1136.9,442.1 1136,236" fill="url(#g124)"/>
<polygon points="1126.9,461.5 1127.1,510.3 1137.2,510.2 1137,461.5" fill="url(#g125)"/>
<polygon points="1127,529.6 1127.3,592.5 1137.7,592.5 1137.4,529.6" fill="url(#g126)"/>
<polygon points="1125.6,236 1125.7,260.5 1136.5,260.5 1136.4,236" fill="url(#g127)"/>
<polygon points="1126.3,442.2 1126.4,461.5 1137.5,461.5 1137.4,442.1" fill="url(#g128)"/>
<line x1="1126.4" y1="461.5" x2="1137.5" y2="461.5" stroke="#8a8a8a" stroke-width="0.8"/>
<line x1="1126.3" y1="442.2" x2="1137.4" y2="442.2" stroke="#9a9a9a" stroke-width="0.7"/>
<circle cx="1128.8" cy="447.6" r="1" fill="#f4f4f4" stroke="#999" stroke-width="0.4"/>
<circle cx="1128.8" cy="457.3" r="1" fill="#f4f4f4" stroke="#999" stroke-width="0.4"/>
<polygon points="1126.6,510.3 1126.7,529.6 1137.8,529.6 1137.7,510.2" fill="url(#g129)"/>
<line x1="1126.7" y1="529.6" x2="1137.8" y2="529.6" stroke="#8a8a8a" stroke-width="0.8"/>
<line x1="1126.6" y1="510.2" x2="1137.7" y2="510.2" stroke="#9a9a9a" stroke-width="0.7"/>
<circle cx="1129.1" cy="515.7" r="1" fill="#f4f4f4" stroke="#999" stroke-width="0.4"/>
<circle cx="1129.1" cy="525.3" r="1" fill="#f4f4f4" stroke="#999" stroke-width="0.4"/>
<polygon points="1126.9,579.3 1127,592.5 1138,592.5 1137.9,579.2" fill="url(#g130)"/>
<polygon points="1053.5,214.5 1054.1,438.1 1065,438.1 1064.5,214.5" fill="url(#g131)"/>
<polygon points="1054,459.2 1054.2,512.3 1065.4,512.3 1065.2,459.2" fill="url(#g132)"/>
<polygon points="1054.1,533.4 1054.3,602 1065.7,602 1065.5,533.4" fill="url(#g133)"/>
<polygon points="1053.1,214.5 1053.2,241.5 1065,241.5 1064.9,214.5" fill="url(#g134)"/>
<polygon points="1053.5,438.1 1053.6,459.2 1065.7,459.2 1065.6,438.1" fill="url(#g135)"/>
<line x1="1053.6" y1="459.2" x2="1065.7" y2="459.2" stroke="#8a8a8a" stroke-width="0.8"/>
<line x1="1053.5" y1="438.1" x2="1065.6" y2="438.1" stroke="#9a9a9a" stroke-width="0.7"/>
<circle cx="1056.2" cy="444" r="1.1" fill="#f4f4f4" stroke="#999" stroke-width="0.4"/>
<circle cx="1056.2" cy="454.6" r="1.1" fill="#f4f4f4" stroke="#999" stroke-width="0.4"/>
<polygon points="1053.7,512.3 1053.8,533.4 1065.9,533.4 1065.8,512.3" fill="url(#g136)"/>
<line x1="1053.8" y1="533.4" x2="1065.9" y2="533.4" stroke="#8a8a8a" stroke-width="0.8"/>
<line x1="1053.7" y1="512.3" x2="1065.8" y2="512.3" stroke="#9a9a9a" stroke-width="0.7"/>
<circle cx="1056.4" cy="518.2" r="1.1" fill="#f4f4f4" stroke="#999" stroke-width="0.4"/>
<circle cx="1056.4" cy="528.8" r="1.1" fill="#f4f4f4" stroke="#999" stroke-width="0.4"/>
<polygon points="1054,587.5 1054,602 1066,602 1066,587.5" fill="url(#g137)"/>
<polygon points="966,188 966.6,431.7 978.5,431.7 978,188" fill="url(#g138)"/>
<polygon points="966.6,454.7 966.7,512.5 978.8,512.4 978.7,454.6" fill="url(#g139)"/>
<polygon points="966.6,535.4 966.8,610 979.2,610 979,535.4" fill="url(#g140)"/>
<polygon points="965.6,188 965.7,217.5 978.5,217.5 978.4,188" fill="url(#g141)"/>
<polygon points="966,431.7 966.1,454.7 979.2,454.6 979.1,431.7" fill="url(#g142)"/>
<line x1="966.1" y1="454.6" x2="979.2" y2="454.6" stroke="#8a8a8a" stroke-width="0.8"/>
<line x1="966" y1="431.7" x2="979.1" y2="431.7" stroke="#9a9a9a" stroke-width="0.7"/>
<circle cx="968.9" cy="438.1" r="1.2" fill="#f4f4f4" stroke="#999" stroke-width="0.4"/>
<circle cx="969" cy="449.6" r="1.2" fill="#f4f4f4" stroke="#999" stroke-width="0.4"/>
<polygon points="966.2,512.5 966.3,535.4 979.4,535.4 979.3,512.4" fill="url(#g143)"/>
<line x1="966.3" y1="535.4" x2="979.4" y2="535.4" stroke="#8a8a8a" stroke-width="0.8"/>
<line x1="966.2" y1="512.4" x2="979.3" y2="512.4" stroke="#9a9a9a" stroke-width="0.7"/>
<circle cx="969.1" cy="518.9" r="1.2" fill="#f4f4f4" stroke="#999" stroke-width="0.4"/>
<circle cx="969.1" cy="530.3" r="1.2" fill="#f4f4f4" stroke="#999" stroke-width="0.4"/>
<polygon points="966.5,594.2 966.5,610 979.5,610 979.5,594.2" fill="url(#g144)"/>
<ellipse cx="979" cy="621.5" rx="19" ry="1.6" fill="#5f5f5f"/>
<ellipse cx="1066" cy="613.5" rx="19" ry="1.6" fill="#5f5f5f"/>
<ellipse cx="1132" cy="598.5" rx="19" ry="1.5" fill="#5f5f5f"/>
<ellipse cx="1199" cy="587" rx="13" ry="1.2" fill="#5f5f5f"/>
<ellipse cx="1250" cy="578.5" rx="12" ry="1.2" fill="#5f5f5f"/>
<ellipse cx="1298" cy="572" rx="12" ry="1.2" fill="#5f5f5f"/>
<polygon points="881.2,626.3 1072.4,599.3 1073.6,607.7 882.8,636.7" fill="url(#g145)"/>
<polygon points="1127.9,591.2 1294.5,565.1 1295.5,570.9 1129.1,598.8" fill="url(#g146)"/>
<ellipse cx="975" cy="617.5" rx="8.5" ry="4.2" fill="#6a6a6a"/>
<circle cx="971" cy="617.5" r="1.2" fill="#e8e8e8"/>
<circle cx="979" cy="616.5" r="1.2" fill="#e8e8e8"/>
<ellipse cx="1063" cy="605.5" rx="8.5" ry="4.2" fill="#6a6a6a"/>
<circle cx="1059" cy="605.5" r="1.2" fill="#e8e8e8"/>
<circle cx="1067" cy="604.5" r="1.2" fill="#e8e8e8"/>
<ellipse cx="1196" cy="585" rx="5.5" ry="3" fill="#6a6a6a"/>
<ellipse cx="1248" cy="576.5" rx="5.5" ry="3" fill="#6a6a6a"/>
<circle cx="1124" cy="594" r="3.4" fill="#2d2d2d"/>
<polygon points="866,140.6 900,151 972,173.4 1000,182.1 1059,201.7 1100,215.3 1131,225.8 1192,246.3 1210,252.4 1245,264.2 1290,279.4 1290,288.9 1245,274.8 1210,263.8 1192,258.1 1131,239 1100,229.3 1059,216.6 1000,198.4 972,190.4 900,169.7 866,160.1" fill="#7b7b7b"/>
<polygon points="668,92 868,152 868,163 712,114.5" fill="#7a7a7a"/>
<polygon points="867.2,141.9 902.1,152.6 898.9,163.3 863.8,152.9" fill="url(#g147)"/>
<polygon points="901.1,152.3 974,175 971,184.9 897.9,162.9" fill="url(#g148)"/>
<polygon points="973,174.7 1002,183.7 999,193.3 970,184.6" fill="url(#g149)"/>
<polygon points="1001.1,183.4 1061,203.3 1058,212.3 997.9,193" fill="url(#g150)"/>
<polygon points="1060,203 1101.9,216.9 1099.1,225.5 1057,211.9" fill="url(#g151)"/>
<polygon points="1100.9,216.6 1132.9,227.3 1130.1,235.6 1098.1,225.1" fill="url(#g152)"/>
<polygon points="1131.9,227 1193.8,247.9 1191.2,255.5 1129.1,235.3" fill="url(#g153)"/>
<polygon points="1192.8,247.6 1211.7,254 1209.3,261.4 1190.2,255.2" fill="url(#g154)"/>
<polygon points="1210.7,253.6 1246.7,265.8 1244.3,272.9 1208.3,261.1" fill="url(#g155)"/>
<polygon points="1245.7,265.4 1291.6,281 1289.4,287.6 1243.3,272.5" fill="url(#g156)"/>
<circle cx="1290.5" cy="283" r="4" fill="#8d8d8d"/>
<circle cx="972.5" cy="187" r="3.5" fill="#505050"/>
<circle cx="981.2" cy="190.5" r="2.8" fill="#3c3c3c"/>
<circle cx="1059.5" cy="213.5" r="3.2" fill="#505050"/>
<circle cx="1067.4" cy="217" r="2.5" fill="#3c3c3c"/>
<circle cx="1131.5" cy="235" r="2.9" fill="#505050"/>
<circle cx="1138.6" cy="238.5" r="2.2" fill="#3c3c3c"/>
<circle cx="1192.5" cy="253.5" r="2.6" fill="#505050"/>
<circle cx="1198.8" cy="257" r="2" fill="#3c3c3c"/>
<circle cx="1245.5" cy="270.5" r="2.3" fill="#505050"/>
<circle cx="1251" cy="274" r="1.8" fill="#3c3c3c"/>
<circle cx="877.5" cy="159.5" r="3.6" fill="#3c3c3c"/>
<polygon points="464,39.1 508,38.1 508,41.9 464,42.9" fill="url(#g157)"/>
<polygon points="481.6,36 481.6,95 487.6,95 487.6,36" fill="url(#g158)"/>
<polygon points="332.9,98.9 660.9,84.4 661.1,89.6 333.1,104.1" fill="url(#g159)"/>
<polygon points="310.1,108 306.9,433.4 319,433.5 320.9,108" fill="url(#g160)"/>
<polygon points="306.6,457.9 306,519.7 318.7,519.8 319,458" fill="url(#g161)"/>
<polygon points="305.6,544.2 304.8,623.9 318.2,624.1 318.6,544.3" fill="url(#g162)"/>
<polygon points="306.3,433.4 306.1,457.9 319.4,458 319.6,433.5" fill="url(#g163)"/>
<line x1="306.1" y1="458" x2="319.4" y2="458" stroke="#8a8a8a" stroke-width="0.8"/>
<line x1="306.3" y1="433.5" x2="319.6" y2="433.5" stroke="#9a9a9a" stroke-width="0.7"/>
<circle cx="309.2" cy="440.3" r="1.2" fill="#f4f4f4" stroke="#999" stroke-width="0.4"/>
<circle cx="309.1" cy="452.6" r="1.2" fill="#f4f4f4" stroke="#999" stroke-width="0.4"/>
<polygon points="305.5,519.7 305.3,544.2 318.9,544.3 319.1,519.8" fill="url(#g164)"/>
<line x1="305.3" y1="544.3" x2="318.9" y2="544.3" stroke="#8a8a8a" stroke-width="0.8"/>
<line x1="305.5" y1="519.8" x2="319.1" y2="519.8" stroke="#9a9a9a" stroke-width="0.7"/>
<circle cx="308.4" cy="526.6" r="1.2" fill="#f4f4f4" stroke="#999" stroke-width="0.4"/>
<circle cx="308.3" cy="538.9" r="1.2" fill="#f4f4f4" stroke="#999" stroke-width="0.4"/>
<polygon points="304.6,606.9 304.5,623.9 318.5,624.1 318.6,607" fill="url(#g165)"/>
<polygon points="657.8,94 655.1,435.3 667.3,435.4 668.8,94" fill="url(#g166)"/>
<polygon points="654.8,460.7 654.3,524.4 667,524.5 667.3,460.7" fill="url(#g167)"/>
<polygon points="654,549.7 653.3,632 666.7,632 667.1,549.8" fill="url(#g168)"/>
<polygon points="654.5,435.3 654.4,460.7 667.7,460.7 667.9,435.4" fill="url(#g169)"/>
<line x1="654.4" y1="460.7" x2="667.7" y2="460.7" stroke="#8a8a8a" stroke-width="0.8"/>
<line x1="654.5" y1="435.4" x2="667.9" y2="435.4" stroke="#9a9a9a" stroke-width="0.7"/>
<circle cx="657.4" cy="442.5" r="1.2" fill="#f4f4f4" stroke="#999" stroke-width="0.4"/>
<circle cx="657.3" cy="455.1" r="1.2" fill="#f4f4f4" stroke="#999" stroke-width="0.4"/>
<polygon points="653.8,524.4 653.7,549.7 667.4,549.8 667.5,524.5" fill="url(#g170)"/>
<line x1="653.7" y1="549.7" x2="667.4" y2="549.7" stroke="#8a8a8a" stroke-width="0.8"/>
<line x1="653.8" y1="524.4" x2="667.5" y2="524.4" stroke="#9a9a9a" stroke-width="0.7"/>
<circle cx="656.8" cy="531.5" r="1.2" fill="#f4f4f4" stroke="#999" stroke-width="0.4"/>
<circle cx="656.7" cy="544.2" r="1.2" fill="#f4f4f4" stroke="#999" stroke-width="0.4"/>
<polygon points="653.1,614.9 653,632 667,632 667.1,615" fill="url(#g171)"/>
<polygon points="657.7,91 657.7,99 668.9,99 668.9,91" fill="url(#g172)"/>
<polygon points="310.3,106 310.3,114 320.9,114 320.9,106" fill="url(#g173)"/>
<ellipse cx="310" cy="626.5" rx="21" ry="1.8" fill="#5f5f5f"/>
<ellipse cx="657" cy="634.5" rx="21" ry="1.8" fill="#5f5f5f"/>
<polygon points="133.2,190 131.7,433.8 143,433.8 144.4,190" fill="url(#g174)"/>
<polygon points="131.4,457.9 131,518.8 142.6,518.8 143,458" fill="url(#g175)"/>
<polygon points="130.8,542.9 130.3,621.5 142.1,621.5 142.6,543" fill="url(#g176)"/>
<polygon points="131.1,433.8 131,457.9 143.4,458 143.6,433.8" fill="url(#g177)"/>
<line x1="131" y1="458" x2="143.4" y2="458" stroke="#8a8a8a" stroke-width="0.8"/>
<line x1="131.1" y1="433.8" x2="143.6" y2="433.8" stroke="#9a9a9a" stroke-width="0.7"/>
<circle cx="133.8" cy="440.6" r="1.1" fill="#f4f4f4" stroke="#999" stroke-width="0.4"/>
<circle cx="133.7" cy="452.6" r="1.1" fill="#f4f4f4" stroke="#999" stroke-width="0.4"/>
<polygon points="130.6,518.8 130.4,542.9 142.9,543 143.1,518.8" fill="url(#g178)"/>
<line x1="130.4" y1="543" x2="142.9" y2="543" stroke="#8a8a8a" stroke-width="0.8"/>
<line x1="130.6" y1="518.8" x2="143.1" y2="518.8" stroke="#9a9a9a" stroke-width="0.7"/>
<circle cx="133.3" cy="525.6" r="1.1" fill="#f4f4f4" stroke="#999" stroke-width="0.4"/>
<circle cx="133.2" cy="537.7" r="1.1" fill="#f4f4f4" stroke="#999" stroke-width="0.4"/>
<polygon points="130,606.3 130,621.5 142.4,621.5 142.5,606.4" fill="url(#g179)"/>
<ellipse cx="133" cy="622.8" rx="18.5" ry="1.6" fill="#5f5f5f"/>
<polygon points="141.1,612 306.1,615.5 305.9,625.5 140.9,622" fill="url(#g180)"/>
<polygon points="141.1,611.7 157.1,612.1 156.9,622.7 140.9,622.3" fill="url(#g181)"/>
<polygon points="284.1,614.7 305.1,615.2 304.9,625.8 283.9,625.3" fill="url(#g182)"/>
<circle cx="150" cy="619" r="1.2" fill="#ddd"/><circle cx="290" cy="621.5" r="1.2" fill="#ddd"/>
<polygon points="665.1,624.1 850.2,628.7 849.8,640.3 664.9,634.9" fill="url(#g183)"/>
<polygon points="846.2,628.1 858.2,628.5 857.8,641.1 845.8,640.7" fill="url(#g184)"/>
<polygon points="859.8,158 859.6,434.8 872.2,434.8 871.8,158" fill="url(#g185)"/>
<polygon points="859.5,460.4 859.5,525 872.4,525 872.4,460.4" fill="url(#g186)"/>
<polygon points="859.3,550.6 859.3,634 872.7,634 872.6,550.6" fill="url(#g187)"/>
<polygon points="859,434.8 859,460.4 872.8,460.4 872.8,434.8" fill="url(#g188)"/>
<line x1="859" y1="460.4" x2="872.8" y2="460.4" stroke="#8a8a8a" stroke-width="0.8"/>
<line x1="859" y1="434.8" x2="872.8" y2="434.8" stroke="#9a9a9a" stroke-width="0.7"/>
<circle cx="862.1" cy="442" r="1.2" fill="#f4f4f4" stroke="#999" stroke-width="0.4"/>
<circle cx="862.1" cy="454.8" r="1.2" fill="#f4f4f4" stroke="#999" stroke-width="0.4"/>
<polygon points="859,525 859,550.6 872.9,550.6 872.9,525" fill="url(#g189)"/>
<line x1="859" y1="550.6" x2="872.9" y2="550.6" stroke="#8a8a8a" stroke-width="0.8"/>
<line x1="859" y1="525" x2="872.9" y2="525" stroke="#9a9a9a" stroke-width="0.7"/>
<circle cx="862.1" cy="532.2" r="1.3" fill="#f4f4f4" stroke="#999" stroke-width="0.4"/>
<circle cx="862.1" cy="545" r="1.3" fill="#f4f4f4" stroke="#999" stroke-width="0.4"/>
<polygon points="137.2,183.1 464.7,27.5 469.4,37.2 141.8,192.9" fill="url(#g190)"/>
<polygon points="137.1,182.9 157.6,173.1 162.5,183.4 141.9,193.1" fill="url(#g191)"/>
<polygon points="298.3,106.2 349.7,81.8 354.6,92.1 303.2,116.5" fill="url(#g192)"/>
<polygon points="435.4,41 462.9,27.9 467.8,38.4 440.4,51.4" fill="url(#g193)"/>
<polygon points="499.8,24.2 864.2,144.1 859.8,157.3 495.9,36" fill="url(#g194)"/>
<polygon points="499.9,24 522.9,31.6 518.8,43.8 495.8,36.2" fill="url(#g195)"/>
<polygon points="620.9,63.3 674.6,81 670.1,94.7 616.4,76.8" fill="url(#g196)"/>
<path d="M441.5 44.2 L467 32.2 Q482.5 21.4 499 30.6 L521 38" fill="none" stroke="#4c4c4c" stroke-width="12.6" stroke-linejoin="round"/>
<path d="M441.5 44.2 L467 32.2 Q482.5 21.4 499 30.6 L521 38" fill="none" stroke="#7c7c7c" stroke-width="7.6" stroke-linejoin="round" transform="translate(0,-2)"/>
<path d="M441.5 44.2 L467 32.2 Q482.5 21.4 499 30.6 L521 38" fill="none" stroke="#a6a6a6" stroke-width="3.2" stroke-linejoin="round" transform="translate(0,-3.4)"/>
<circle cx="447.5" cy="41" r="1.3" fill="#ddd"/><circle cx="509.5" cy="36.5" r="1.3" fill="#ddd"/>
<path d="M166 175.8 L148.5 184 Q138.8 188.6 138.8 198 L138.7 222.5" fill="none" stroke="#474747" stroke-width="11.8" stroke-linejoin="round"/>
<path d="M166 175.8 L148.5 184 Q138.8 188.6 138.8 198 L138.7 222.5" fill="none" stroke="#6a6a6a" stroke-width="7.4" stroke-linejoin="round" transform="translate(-0.3,-0.6)"/>
<path d="M166 175.8 L148.5 184 Q138.8 188.6 138.8 198 L138.7 222.5" fill="none" stroke="#a4a4a4" stroke-width="3" stroke-linejoin="round" transform="translate(-0.9,-1.3)"/>
<circle cx="135.4" cy="210.5" r="1.4" fill="#e0e0e0"/><circle cx="153.6" cy="178.6" r="1.3" fill="#e0e0e0"/>
<path d="M859.4 176 L859.4 163 Q859.4 153.5 850 150.6 L836 146.2 L838.6 137.8 L857 143.6 Q872.2 148.6 872.2 162 L872.2 176 Z" fill="#474747"/>
<path d="M861.4 176 L861.4 161 Q861.4 151 851 147.6 L837.6 143.4 L840.2 132.4 L858.5 138.2 Q872.2 143 872.2 160 L872.2 176 Z" fill="url(#elbow)"/>
<polygon points="738,100.1 800,119.3 866,139.6 900,150 1000,181.1 1100,214.3 1210,251.4 1288.6,277.9 1288.6,280 1210,253.8 1100,217 1000,184.1 900,153.3 866,145.1 800,122.8 738,101.7" fill="#969696"/>
<polyline points="738,100.4 800,119.6 866,139.9 900,150.3 1000,181.4 1100,214.6 1210,251.7 1288.6,278.2" fill="none" stroke="#5e5e5e" stroke-width="1.1" stroke-dasharray="2.2 1.4"/>
</g>
<g id="annotations" opacity="0.999">
<polygon points="60.6,18.3 53.1,33.8 68.1,33.8" fill="#444444"/>
<polygon points="60.6,623.1 53.1,607.6 68.1,607.6" fill="#444444"/>
<line x1="60.6" y1="33.8" x2="60.6" y2="608.1" stroke="#444444" stroke-width="4.9"/>
<rect x="13" y="302" width="96" height="39" rx="14" ry="14" fill="#fff" stroke="#efefef" stroke-width="0.8" stroke-dasharray="1.2 2.2"/>
<text x="61.4" y="329.7" font-size="23.2" fill="#333" text-anchor="middle" class="lb ls">4,91 m</text>
<polygon points="268.8,131.8 261.3,147.1 276.3,147.1" fill="#d40b0b"/>
<polygon points="268.8,623 261.3,607.7 276.3,607.7" fill="#d40b0b"/>
<line x1="268.8" y1="147.1" x2="268.8" y2="608.2" stroke="#d40b0b" stroke-width="4.9"/>
<rect x="224" y="357.5" width="86" height="38.5" rx="14" ry="14" fill="#fff" stroke="#efefef" stroke-width="0.8" stroke-dasharray="1.2 2.2"/>
<text x="269.4" y="383.8" font-size="19.6" fill="#d40b0b" text-anchor="middle" class="lb ls">4,31 m</text>
<polygon points="327,605.5 342.3,613.4 342.7,598.4" fill="#d40b0b"/>
<polygon points="632.5,614 616.8,621.1 617.2,606.1" fill="#d40b0b"/>
<line x1="342.5" y1="605.9" x2="617.5" y2="613.6" stroke="#d40b0b" stroke-width="4.8"/>
<rect x="435" y="600" width="91" height="20" fill="#fff"/>
<rect x="436" y="591" width="88" height="34" rx="14" ry="14" fill="#fff" stroke="#efefef" stroke-width="0.8" stroke-dasharray="1.2 2.2"/>
<text x="480.4" y="615" font-size="19.6" fill="#d40b0b" text-anchor="middle" class="lb ls">2,33 m</text>
<polygon points="117.7,664.3 133,672 133.4,657.5" fill="#444444"/>
<polygon points="854.3,685 838.6,691.8 839,677.3" fill="#444444"/>
<line x1="133.2" y1="664.7" x2="839.3" y2="684.6" stroke="#444444" stroke-width="5"/>
<rect x="440.5" y="660" width="91.5" height="26" fill="#fff"/>
<rect x="450" y="653" width="70" height="37" rx="14" ry="14" fill="#fff" stroke="#efefef" stroke-width="0.8" stroke-dasharray="1.2 2.2"/>
<text x="486.4" y="678.5" font-size="23.2" fill="#333" text-anchor="middle" class="lb ls">5 m</text>
<polygon points="897,684.3 913.6,688.6 910.9,674.3" fill="#444444"/>
<polygon points="1307,607 1293.1,617 1290.4,602.7" fill="#444444"/>
<line x1="912.2" y1="681.4" x2="1292.3" y2="609.8" stroke="#444444" stroke-width="5"/>
<rect x="1058.5" y="626" width="87.5" height="34" fill="#fff"/>
<rect x="1061" y="624" width="79" height="37" rx="14" ry="14" fill="#fff" stroke="#efefef" stroke-width="0.8" stroke-dasharray="1.2 2.2"/>
<text x="1101" y="649.5" font-size="23.2" fill="#333" text-anchor="middle" class="lb ls">36 m</text>
<polygon points="1347.6,279.4 1340.1,294.9 1355.1,294.9" fill="#444444"/>
<polygon points="1347.6,573 1340.1,557.5 1355.1,557.5" fill="#444444"/>
<line x1="1347.6" y1="294.9" x2="1347.6" y2="558" stroke="#444444" stroke-width="5"/>
<rect x="1313" y="407" width="71" height="39" rx="14" ry="14" fill="#fff" stroke="#efefef" stroke-width="0.8" stroke-dasharray="1.2 2.2"/>
<text x="1348.4" y="433" font-size="23.2" fill="#333" text-anchor="middle" class="lb ls">4 m</text>
<circle cx="220" cy="148.8" r="16.9" fill="#303030"/>
<text x="220" y="155.8" font-size="19.5" fill="#fff" text-anchor="middle" class="lb">1</text>
<circle cx="324.9" cy="100.8" r="16.9" fill="#303030"/>
<text x="324.9" y="107.8" font-size="19.5" fill="#fff" text-anchor="middle" class="lb">2</text>
<circle cx="485" cy="68.6" r="16.9" fill="#303030"/>
<text x="485" y="75.6" font-size="19.5" fill="#fff" text-anchor="middle" class="lb">3</text>
<circle cx="865.8" cy="447.5" r="16.9" fill="#303030"/>
<text x="865.8" y="454.5" font-size="19.5" fill="#fff" text-anchor="middle" class="lb">4</text>
<circle cx="664.2" cy="498.8" r="16.9" fill="#303030"/>
<text x="664.2" y="505.8" font-size="19.5" fill="#fff" text-anchor="middle" class="lb">5</text>
<circle cx="747" cy="630.5" r="16.9" fill="#303030"/>
<text x="747" y="637.5" font-size="19.5" fill="#fff" text-anchor="middle" class="lb">6</text>
<circle cx="865.5" cy="635.5" r="16.9" fill="#303030"/>
<text x="865.5" y="642.5" font-size="19.5" fill="#fff" text-anchor="middle" class="lb">7</text>
<circle cx="445.6" cy="187.8" r="16.9" fill="#303030"/>
<text x="445.6" y="194.8" font-size="19.5" fill="#fff" text-anchor="middle" class="lb">8</text>
<circle cx="344.5" cy="345" r="16.9" fill="#303030"/>
<text x="344.5" y="352" font-size="19.5" fill="#fff" text-anchor="middle" class="lb">9</text>
</g>
</svg>
</body>
</html>
